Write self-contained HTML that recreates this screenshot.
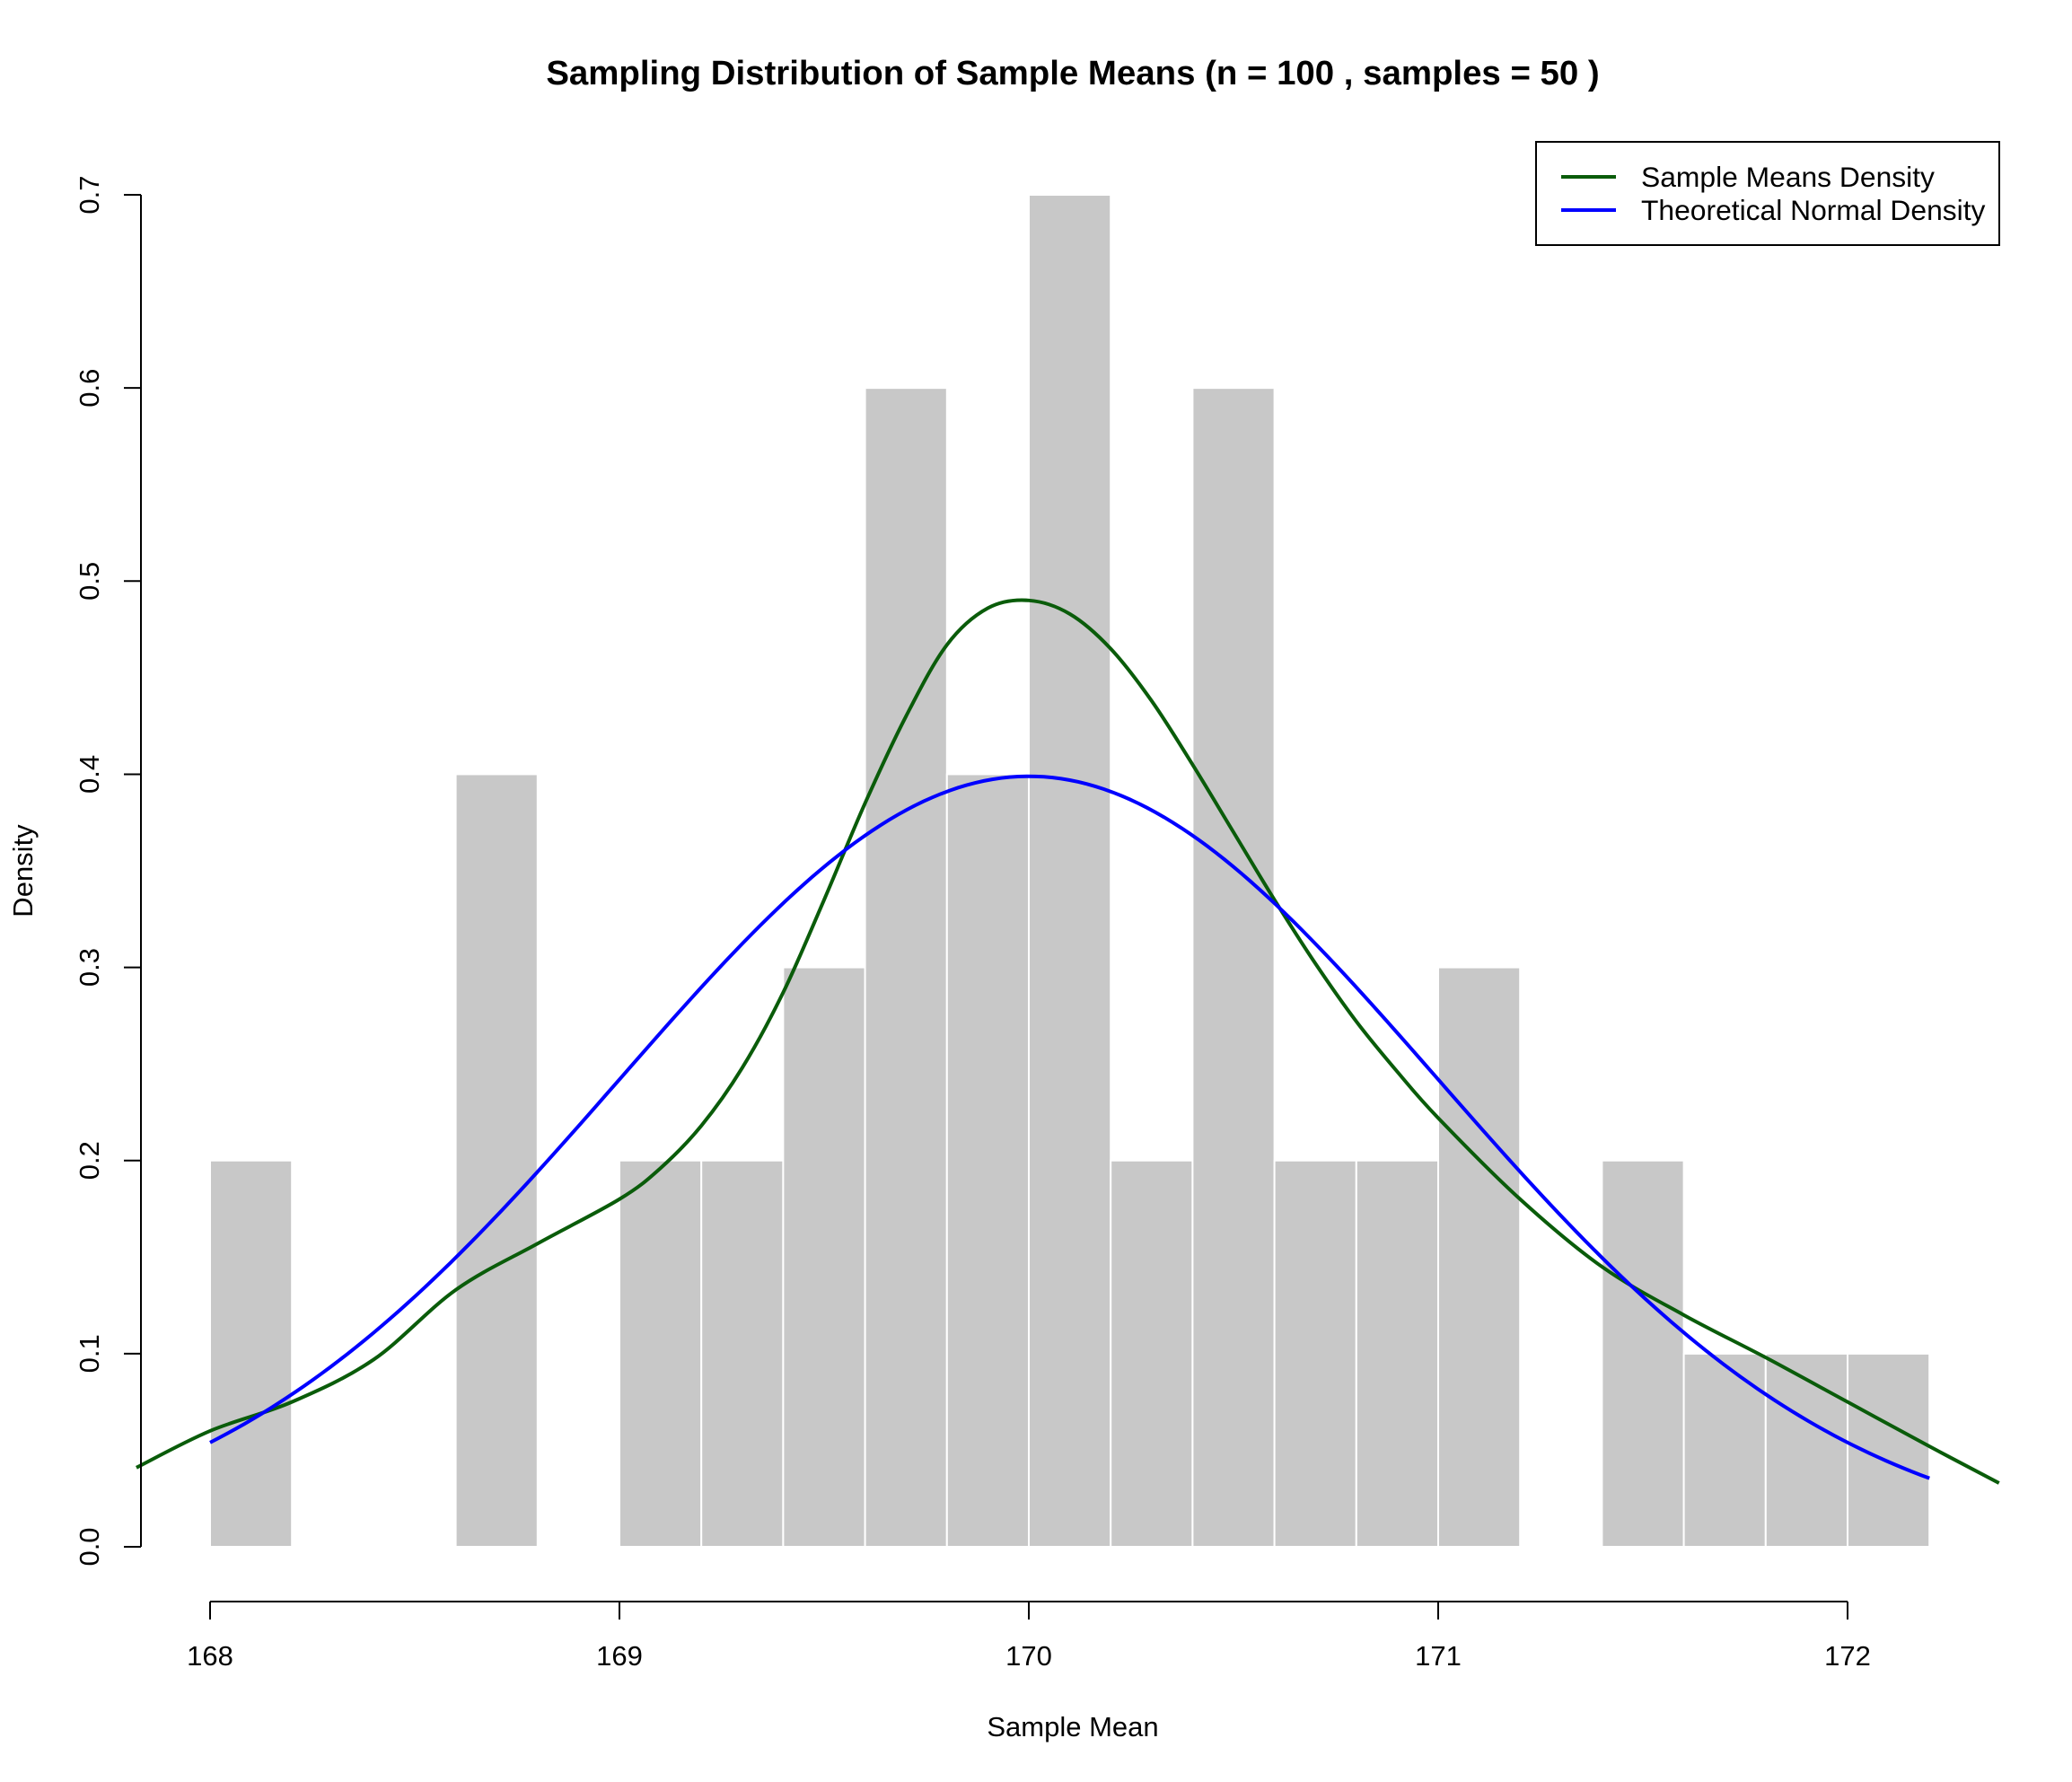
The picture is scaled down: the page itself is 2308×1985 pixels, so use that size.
<!DOCTYPE html>
<html><head><meta charset="utf-8"><style>
html,body{margin:0;padding:0;background:#fff}
svg text{font-family:"Liberation Sans",Arial,sans-serif;fill:#000}
</style></head><body>
<svg id="chart" width="2308" height="1980" viewBox="0 0 2308 1980">
<text x="1195" y="94" text-anchor="middle" font-size="38.4" font-weight="bold">Sampling Distribution of Sample Means (n = 100 , samples = 50 )</text>
<g id="bars"></g>
<g id="lines"></g>
<g id="axes"></g>
<text x="1195" y="1934" text-anchor="middle" font-size="31">Sample Mean</text>
<text transform="translate(36,970) rotate(-90)" text-anchor="middle" font-size="31">Density</text>
<g>
<rect x="1711" y="158" width="516" height="115" fill="#fff" stroke="#000" stroke-width="2"/>
<line x1="1739" y1="197" x2="1800" y2="197" stroke="#0a5c0a" stroke-width="4"/>
<text x="1828" y="208" font-size="31.8">Sample Means Density</text>
<line x1="1739" y1="234" x2="1800" y2="234" stroke="#0000ff" stroke-width="4"/>
<text x="1828" y="245" font-size="31.8">Theoretical Normal Density</text>
</g>
</svg>
<script>
const binStarts = [168.0,168.2,168.4,168.6,168.8,169.0,169.2,169.4,169.6,169.8,170.0,170.2,170.4,170.6,170.8,171.0,171.2,171.4,171.6,171.8,172.0];
const binDensity = [0.2,0,0,0.4,0,0.2,0.2,0.3,0.6,0.4,0.7,0.2,0.6,0.2,0.2,0.3,0,0.2,0.1,0.1,0.1];
const binWidth = 0.2;
const kdeX = [167.82,168.0,168.2,168.4,168.6,168.8,169.0,169.1,169.2,169.3,169.4,169.5,169.6,169.7,169.8,169.9,170.0,170.1,170.2,170.3,170.4,170.5,170.6,170.7,170.8,170.9,171.0,171.2,171.4,171.6,171.8,172.0,172.2,172.37];
const kdeY = [0.041,0.06,0.075,0.097,0.133,0.157,0.18,0.196,0.218,0.248,0.287,0.335,0.385,0.43,0.467,0.486,0.49,0.483,0.465,0.438,0.405,0.37,0.335,0.302,0.272,0.246,0.222,0.18,0.145,0.12,0.098,0.075,0.052,0.033];
const normMean = 170, normSd = 1, normFrom = 168, normTo = 172.2;
const xTicks = [168,169,170,171,172];
const yTicks = [0,0.1,0.2,0.3,0.4,0.5,0.6,0.7];
const yTickLabels = ["0.0","0.1","0.2","0.3","0.4","0.5","0.6","0.7"];

const NS="http://www.w3.org/2000/svg";
const X = v => 234 + (v-168)*456;
const Y = v => 1723 - v*2151.4;
function mk(tag, attrs, parent){const e=document.createElementNS(NS,tag);for(const k in attrs)e.setAttribute(k,attrs[k]);parent.appendChild(e);return e;}
const gb=document.getElementById('bars'), gl=document.getElementById('lines'), ga=document.getElementById('axes');
binStarts.forEach((s,i)=>{
  if(binDensity[i]<=0) return;
  const r=mk('rect',{x:X(s),y:Y(binDensity[i]),width:X(s+binWidth)-X(s),height:Y(0)-Y(binDensity[i]),fill:'#c8c8c8',stroke:'#fff','stroke-width':2},gb);
  
  
});
function smoothPath(px,py){
  let d='M'+px[0]+','+py[0];
  for(let i=0;i<px.length-1;i++){
    const p0x=px[Math.max(i-1,0)],p0y=py[Math.max(i-1,0)],p3x=px[Math.min(i+2,px.length-1)],p3y=py[Math.min(i+2,px.length-1)];
    const c1x=px[i]+(px[i+1]-p0x)/6,c1y=py[i]+(py[i+1]-p0y)/6,c2x=px[i+1]-(p3x-px[i])/6,c2y=py[i+1]-(p3y-py[i])/6;
    d+=' C'+c1x+','+c1y+' '+c2x+','+c2y+' '+px[i+1]+','+py[i+1];
  }
  return d;
}
const kp=mk('path',{d:smoothPath(kdeX.map(X),kdeY.map(Y)),fill:'none',stroke:'#0a5c0a','stroke-width':4},gl);


const nx=[],ny=[];
for(let i=0;i<=200;i++){const v=normFrom+(normTo-normFrom)*i/200;nx.push(X(v));ny.push(Y(Math.exp(-0.5*((v-normMean)/normSd)**2)/(normSd*Math.sqrt(2*Math.PI))));}
const np=mk('polyline',{points:nx.map((x,i)=>x+','+ny[i]).join(' '),fill:'none',stroke:'#0000ff','stroke-width':4},gl);


const ya=mk('line',{x1:157,y1:Y(0),x2:157,y2:Y(0.7),stroke:'#000','stroke-width':2},ga);


yTicks.forEach((t,i)=>{
  const l=mk('line',{x1:138,y1:Y(t),x2:157,y2:Y(t),stroke:'#000','stroke-width':2},ga);
  
  
  const tx=mk('text',{transform:'translate(110,'+Y(t)+') rotate(-90)','text-anchor':'middle','font-size':31},ga);
  tx.textContent=yTickLabels[i];
  
  
});
const xa=mk('line',{x1:X(xTicks[0]),y1:1784,x2:X(xTicks[xTicks.length-1]),y2:1784,stroke:'#000','stroke-width':2},ga);


xTicks.forEach(t=>{
  const l=mk('line',{x1:X(t),y1:1784,x2:X(t),y2:1804,stroke:'#000','stroke-width':2},ga);
  
  
  const tx=mk('text',{x:X(t),y:1855,'text-anchor':'middle','font-size':31},ga);
  tx.textContent=String(t);
  
  
});
</script>
</body></html>
